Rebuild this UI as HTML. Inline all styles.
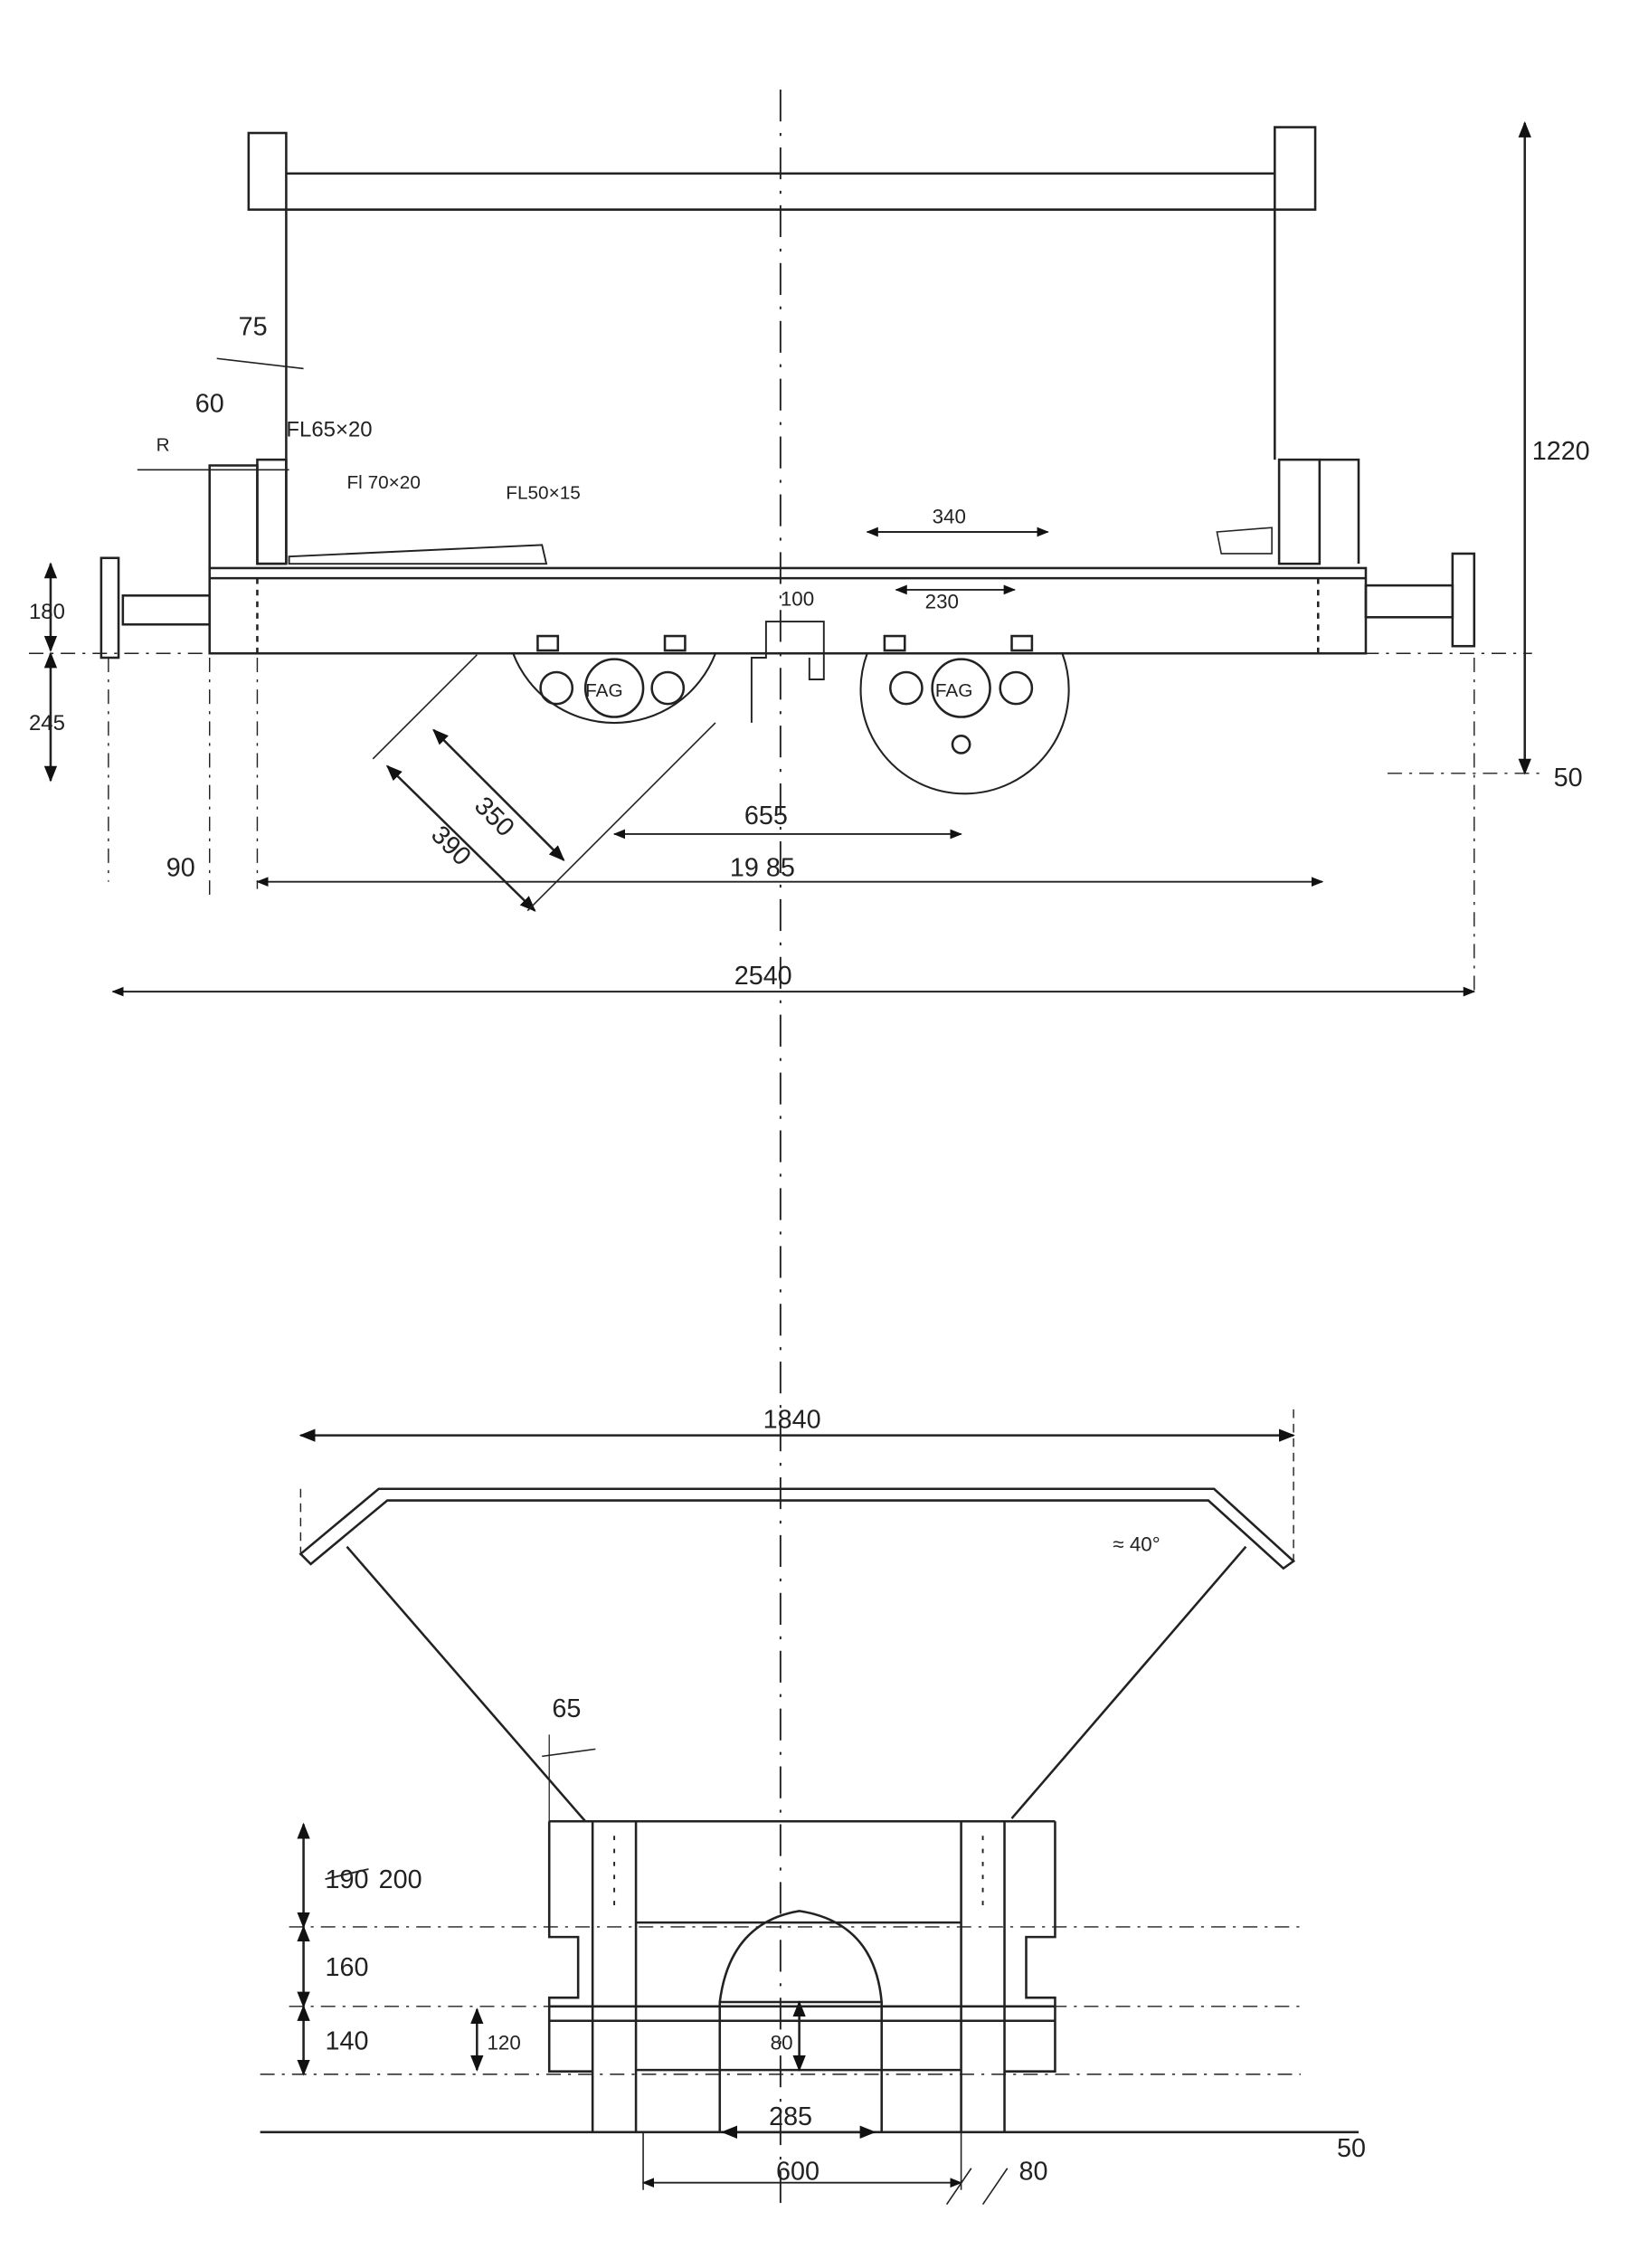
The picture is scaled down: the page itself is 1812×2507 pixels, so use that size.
<!DOCTYPE html>
<html><head><meta charset="utf-8"><style>
html,body{margin:0;padding:0;background:#fff;}
svg{display:block;}
text{font-family:"Liberation Sans",sans-serif;fill:#222;}
</style></head><body>
<svg width="1812" height="2507" viewBox="0 0 1134 1569" xmlns="http://www.w3.org/2000/svg">
<defs>
<marker id="a" viewBox="0 0 10 10" refX="9" refY="5" markerWidth="7" markerHeight="7" orient="auto-start-reverse"><path d="M0,1 L10,5 L0,9 z" fill="#111"/></marker>
</defs>
<g stroke="#222" stroke-width="1.6" fill="none">
<line x1="540" y1="62" x2="540" y2="1525" stroke-dasharray="22,8,2,8" stroke-width="1.2"/>
<rect x="172" y="92" width="26" height="53"/>
<rect x="882" y="88" width="28" height="57"/>
<line x1="198" y1="120" x2="882" y2="120"/>
<line x1="198" y1="145" x2="882" y2="145"/>
<line x1="198" y1="145" x2="198" y2="390"/>
<line x1="882" y1="145" x2="882" y2="318"/>
<path d="M145,393 V322 H178 V390 H198"/>
<rect x="178" y="318" width="20" height="72"/>
<rect x="885" y="318" width="28" height="72"/>
<path d="M913,318 H940 V390"/>
<path d="M200,385 L375,377 L378,390 L200,390 z" stroke-width="1.2"/>
<path d="M842,368 L880,365 L880,383 L845,383 z" stroke-width="1"/>
<rect x="145" y="393" width="800" height="59"/>
<line x1="145" y1="400" x2="945" y2="400"/>
<line x1="178" y1="400" x2="178" y2="452" stroke-dasharray="4,4"/>
<line x1="912" y1="400" x2="912" y2="452" stroke-dasharray="4,4"/>
<rect x="85" y="412" width="60" height="20"/>
<rect x="70" y="386" width="12" height="69"/>
<rect x="945" y="405" width="60" height="22"/>
<rect x="1005" y="383" width="15" height="64"/>
<path d="M355,452 A75,75 0 0 0 495,452" stroke-width="1.3"/>
<path d="M600,452 A72,72 0 1 0 735,452" stroke-width="1.3"/>
<circle cx="425" cy="476" r="20"/><circle cx="385" cy="476" r="11"/><circle cx="462" cy="476" r="11"/>
<circle cx="665" cy="476" r="20"/><circle cx="627" cy="476" r="11"/><circle cx="703" cy="476" r="11"/>
<circle cx="665" cy="515" r="6"/>
<rect x="372" y="440" width="14" height="10"/><rect x="460" y="440" width="14" height="10"/>
<rect x="612" y="440" width="14" height="10"/><rect x="700" y="440" width="14" height="10"/>
<path d="M520,500 V455 H530 V430 H570 V470 H560 V455" stroke-width="1.2"/>
<line x1="1055" y1="85" x2="1055" y2="535" marker-start="url(#a)" marker-end="url(#a)"/>
<line x1="78" y1="686" x2="1020" y2="686" marker-start="url(#a)" marker-end="url(#a)" stroke-width="1.2"/>
<line x1="178" y1="610" x2="915" y2="610" marker-start="url(#a)" marker-end="url(#a)" stroke-width="1.2"/>
<line x1="425" y1="577" x2="665" y2="577" marker-start="url(#a)" marker-end="url(#a)" stroke-width="1.2"/>
<line x1="600" y1="368" x2="725" y2="368" marker-start="url(#a)" marker-end="url(#a)" stroke-width="1.2"/>
<line x1="620" y1="408" x2="702" y2="408" marker-start="url(#a)" marker-end="url(#a)" stroke-width="1.2"/>
<line x1="35" y1="390" x2="35" y2="450" marker-start="url(#a)" marker-end="url(#a)"/>
<line x1="35" y1="452" x2="35" y2="540" marker-start="url(#a)" marker-end="url(#a)"/>
<line x1="268" y1="530" x2="370" y2="630" marker-start="url(#a)" marker-end="url(#a)"/>
<line x1="300" y1="505" x2="390" y2="595" marker-start="url(#a)" marker-end="url(#a)"/>
<line x1="258" y1="525" x2="330" y2="453" stroke-width="1"/>
<line x1="365" y1="630" x2="495" y2="500" stroke-width="1"/>
<g stroke-dasharray="10,5,2,5" stroke-width="0.9">
<line x1="75" y1="455" x2="75" y2="610"/><line x1="145" y1="455" x2="145" y2="620"/>
<line x1="1020" y1="455" x2="1020" y2="690"/><line x1="178" y1="455" x2="178" y2="615"/>
<line x1="20" y1="452" x2="1060" y2="452"/><line x1="960" y1="535" x2="1070" y2="535"/>
</g>
<line x1="150" y1="248" x2="210" y2="255" stroke-width="1"/>
<line x1="95" y1="325" x2="200" y2="325" stroke-width="1"/>
<!-- bottom -->
<line x1="208" y1="993" x2="895" y2="993" marker-start="url(#a)" marker-end="url(#a)"/>
<line x1="208" y1="1030" x2="208" y2="1080" stroke-dasharray="6,4" stroke-width="0.9"/>
<line x1="895" y1="975" x2="895" y2="1080" stroke-dasharray="6,4" stroke-width="0.9"/>
<path d="M208,1075 L262,1030 H840 L895,1080 L888,1085 L836,1038 H268 L215,1082 z"/>
<line x1="240" y1="1070" x2="405" y2="1260"/>
<line x1="862" y1="1070" x2="700" y2="1258"/>
<line x1="380" y1="1260" x2="730" y2="1260"/>
<path d="M380,1260 V1340 H400 V1382 H380 V1433 H410"/>
<path d="M730,1260 V1340 H710 V1382 H730 V1433 H695"/>
<line x1="440" y1="1330" x2="665" y2="1330"/>
<line x1="410" y1="1260" x2="410" y2="1475"/><line x1="440" y1="1260" x2="440" y2="1475"/>
<line x1="665" y1="1260" x2="665" y2="1475"/><line x1="695" y1="1260" x2="695" y2="1475"/>
<line x1="380" y1="1388" x2="730" y2="1388"/>
<line x1="380" y1="1398" x2="730" y2="1398"/>
<line x1="440" y1="1432" x2="665" y2="1432"/>
<g stroke-dasharray="3,6" stroke-width="1.2"><line x1="425" y1="1270" x2="425" y2="1320"/><line x1="680" y1="1270" x2="680" y2="1320"/></g>
<path d="M498,1475 V1385 Q505,1330 553,1322 Q605,1330 610,1385 V1475"/>
<line x1="498" y1="1385" x2="610" y2="1385"/>
<line x1="180" y1="1475" x2="940" y2="1475"/>
<line x1="210" y1="1262" x2="210" y2="1333" marker-start="url(#a)" marker-end="url(#a)"/>
<line x1="210" y1="1333" x2="210" y2="1388" marker-start="url(#a)" marker-end="url(#a)"/>
<line x1="210" y1="1388" x2="210" y2="1435" marker-start="url(#a)" marker-end="url(#a)"/>
<line x1="330" y1="1390" x2="330" y2="1432" marker-start="url(#a)" marker-end="url(#a)"/>
<line x1="500" y1="1475" x2="605" y2="1475" marker-start="url(#a)" marker-end="url(#a)"/>
<line x1="445" y1="1510" x2="665" y2="1510" marker-start="url(#a)" marker-end="url(#a)" stroke-width="1.2"/>
<line x1="553" y1="1385" x2="553" y2="1432" marker-start="url(#a)" marker-end="url(#a)"/>
<line x1="445" y1="1475" x2="445" y2="1515" stroke-width="1"/>
<line x1="665" y1="1475" x2="665" y2="1515" stroke-width="1"/>
<line x1="655" y1="1525" x2="672" y2="1500" stroke-width="1"/><line x1="680" y1="1525" x2="697" y2="1500" stroke-width="1"/>
<line x1="375" y1="1215" x2="412" y2="1210" stroke-width="1"/>
<line x1="380" y1="1200" x2="380" y2="1260" stroke-width="0.8"/>
<g stroke-dasharray="10,5,2,5" stroke-width="0.9">
<line x1="200" y1="1333" x2="900" y2="1333"/><line x1="200" y1="1388" x2="900" y2="1388"/>
<line x1="180" y1="1435" x2="900" y2="1435"/>
</g>
<line x1="225" y1="1300" x2="255" y2="1293" stroke-width="1.2"/>
</g>
<g font-size="18">
<text x="1060" y="318">1220</text><text x="1075" y="544">50</text>
<text x="508" y="681">2540</text><text x="505" y="606">19 85</text><text x="515" y="570">655</text>
<text x="645" y="362" font-size="14">340</text><text x="640" y="421" font-size="14">230</text>
<text x="20" y="428" font-size="15">180</text><text x="20" y="505" font-size="15">245</text>
<text x="115" y="606">90</text><text x="165" y="232">75</text><text x="135" y="285">60</text>
<text x="198" y="302" font-size="15">FL65×20</text><text x="240" y="338" font-size="13">Fl 70×20</text>
<text x="350" y="345" font-size="13">FL50×15</text><text x="108" y="312" font-size="13">R</text>
<text x="540" y="419" font-size="14">100</text>
<text x="405" y="482" font-size="13">FAG</text><text x="647" y="482" font-size="13">FAG</text>
<text x="335" y="570" transform="rotate(45 345 555)">350</text>
<text x="305" y="590" transform="rotate(45 315 575)">390</text>
<text x="528" y="988">1840</text><text x="770" y="1073" font-size="14">≈ 40°</text>
<text x="382" y="1188">65</text>
<text x="225" y="1306">190</text><text x="262" y="1306" fill="#555">200</text>
<text x="225" y="1367">160</text><text x="225" y="1418">140</text>
<text x="337" y="1418" font-size="14">120</text><text x="533" y="1418" font-size="14">80</text>
<text x="532" y="1470">285</text><text x="537" y="1508">600</text><text x="705" y="1508">80</text>
<text x="925" y="1492">50</text>
</g>
</svg>
</body></html>
